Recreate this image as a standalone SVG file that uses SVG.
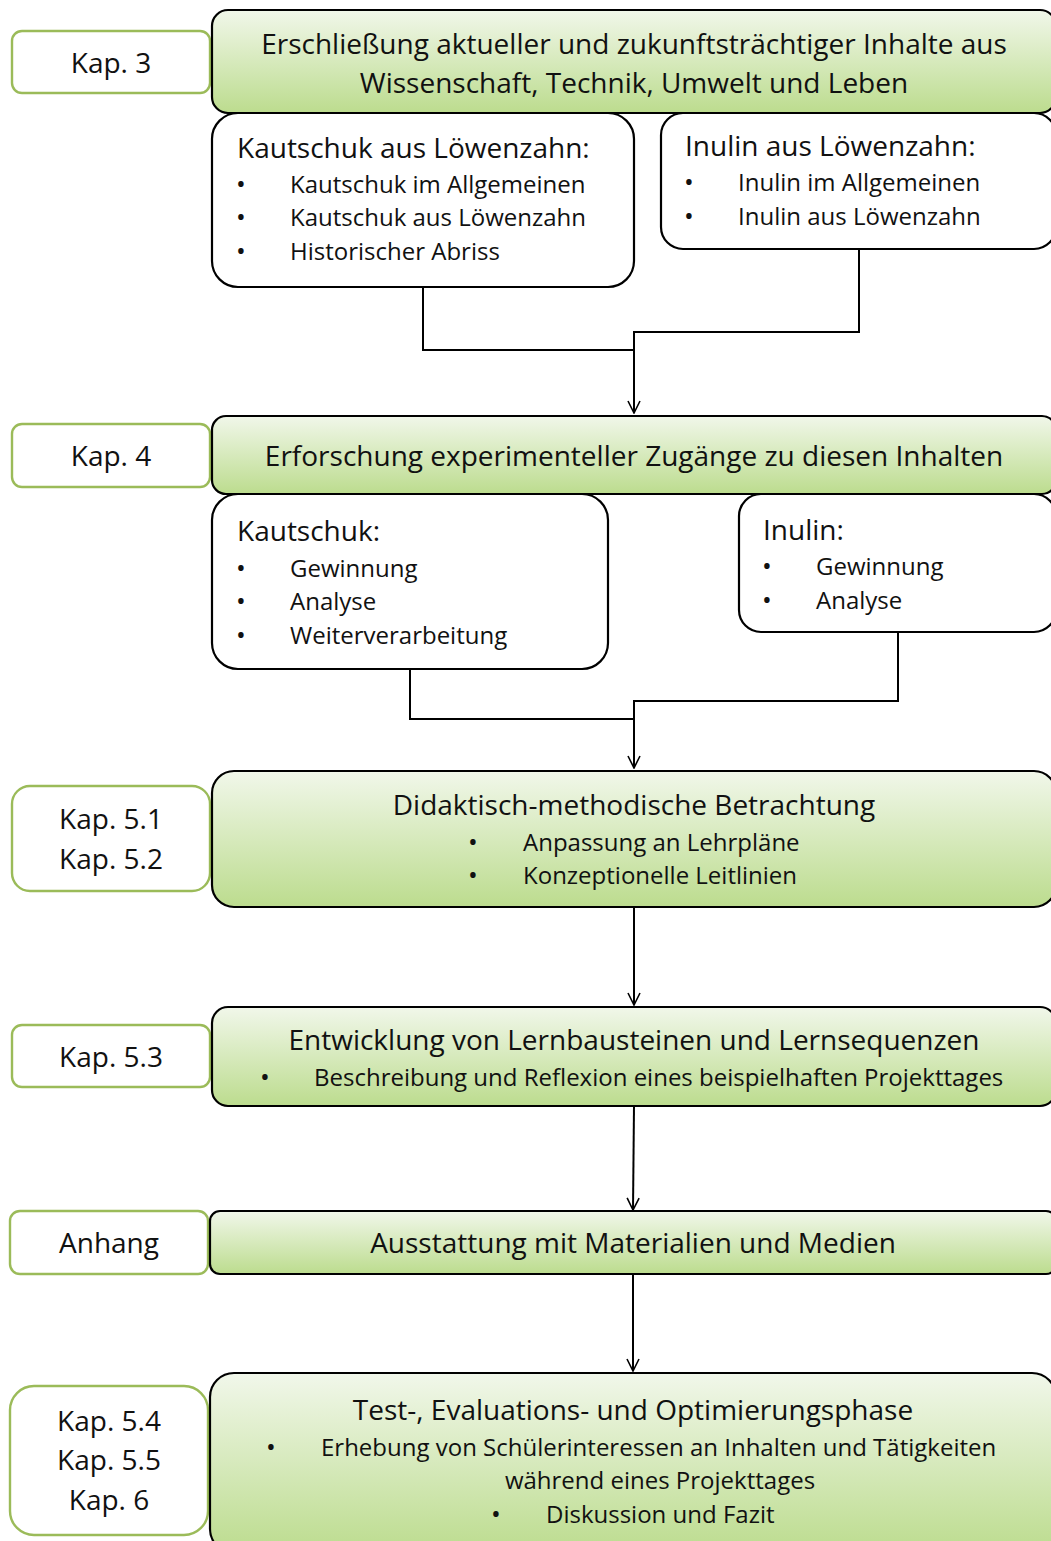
<svg xmlns="http://www.w3.org/2000/svg" width="1051" height="1541" viewBox="0 0 1051 1541">
<defs>
<linearGradient id="g" x1="0" y1="0" x2="0" y2="1">
<stop offset="0" stop-color="#f1f7ea"/>
<stop offset="1" stop-color="#bcdc8e"/>
</linearGradient>
<marker id="arr" viewBox="0 0 14 14" refX="13" refY="7" markerWidth="14" markerHeight="14" markerUnits="userSpaceOnUse" orient="auto">
<path d="M1,1 L13,7 L1,13" fill="none" stroke="#000" stroke-width="1.6"/>
</marker>
</defs>
<style>
.main{fill:url(#g);stroke:#000;stroke-width:2.2}
.sub{fill:#fff;stroke:#000;stroke-width:2.2}
.lab{fill:#fff;stroke:#9bbb59;stroke-width:2.4}
text{font-family:"Open Sans","Noto Sans","Liberation Sans",sans-serif;fill:#111}
.t{font-size:28px}
.i{font-size:24px}
.b{font-size:26px}
.c{text-anchor:middle}
.con{fill:none;stroke:#000;stroke-width:2}
</style>
<rect width="1051" height="1541" fill="#fff"/>

<g id="connectors">
<polyline class="con" points="423,287 423,350 634,350"/>
<polyline class="con" points="859,249 859,332 634,332 634,413" marker-end="url(#arr)"/>
<polyline class="con" points="410,669 410,719 634,719"/>
<polyline class="con" points="898,632 898,701 634,701 634,768" marker-end="url(#arr)"/>
<line class="con" x1="634" y1="907" x2="634" y2="1005" marker-end="url(#arr)"/>
<line class="con" x1="634" y1="1106" x2="633" y2="1210" marker-end="url(#arr)"/>
<line class="con" x1="633" y1="1274" x2="633" y2="1371" marker-end="url(#arr)"/>
</g>

<g id="lab-kap3">
<rect class="lab" x="12" y="31" width="198" height="62" rx="10"/>
<text class="t c" x="111" y="73">Kap. 3</text>
</g>
<g id="n1">
<rect class="main" x="212" y="10" width="844" height="103" rx="16"/>
<text class="t c" x="634" y="54">Erschließung aktueller und zukunftsträchtiger Inhalte aus</text>
<text class="t c" x="634" y="93">Wissenschaft, Technik, Umwelt und Leben</text>
</g>
<g id="n1a">
<rect class="sub" x="212" y="113" width="422" height="174" rx="26"/>
<text class="t" x="237" y="158">Kautschuk aus Löwenzahn:</text>
<text class="b" x="236" y="193">•</text><text class="i" x="290" y="193">Kautschuk im Allgemeinen</text>
<text class="b" x="236" y="226">•</text><text class="i" x="290" y="226">Kautschuk aus Löwenzahn</text>
<text class="b" x="236" y="260">•</text><text class="i" x="290" y="260">Historischer Abriss</text>
</g>
<g id="n1b">
<rect class="sub" x="661" y="113" width="395" height="136" rx="22"/>
<text class="t" x="685" y="156">Inulin aus Löwenzahn:</text>
<text class="b" x="684" y="191">•</text><text class="i" x="738" y="191">Inulin im Allgemeinen</text>
<text class="b" x="684" y="225">•</text><text class="i" x="738" y="225">Inulin aus Löwenzahn</text>
</g>

<g id="lab-kap4">
<rect class="lab" x="12" y="424" width="198" height="63" rx="10"/>
<text class="t c" x="111" y="466">Kap. 4</text>
</g>
<g id="n2">
<rect class="main" x="212" y="416" width="844" height="78" rx="14"/>
<text class="t c" x="634" y="466">Erforschung experimenteller Zugänge zu diesen Inhalten</text>
</g>
<g id="n2a">
<rect class="sub" x="212" y="494" width="396" height="175" rx="26"/>
<text class="t" x="237" y="541">Kautschuk:</text>
<text class="b" x="236" y="577">•</text><text class="i" x="290" y="577">Gewinnung</text>
<text class="b" x="236" y="610">•</text><text class="i" x="290" y="610">Analyse</text>
<text class="b" x="236" y="644">•</text><text class="i" x="290" y="644">Weiterverarbeitung</text>
</g>
<g id="n2b">
<rect class="sub" x="739" y="494" width="317" height="138" rx="22"/>
<text class="t" x="763" y="540">Inulin:</text>
<text class="b" x="762" y="575">•</text><text class="i" x="816" y="575">Gewinnung</text>
<text class="b" x="762" y="609">•</text><text class="i" x="816" y="609">Analyse</text>
</g>

<g id="lab-kap5-1">
<rect class="lab" x="12" y="786" width="198" height="105" rx="18"/>
<text class="t c" x="111" y="829">Kap. 5.1</text>
<text class="t c" x="111" y="869">Kap. 5.2</text>
</g>
<g id="n3">
<rect class="main" x="212" y="771" width="844" height="136" rx="22"/>
<text class="t c" x="634" y="815">Didaktisch-methodische Betrachtung</text>
<text class="b" x="468" y="851">•</text><text class="i" x="523" y="851">Anpassung an Lehrpläne</text>
<text class="b" x="468" y="884">•</text><text class="i" x="523" y="884">Konzeptionelle Leitlinien</text>
</g>

<g id="lab-kap5-3">
<rect class="lab" x="12" y="1025" width="198" height="62" rx="10"/>
<text class="t c" x="111" y="1067">Kap. 5.3</text>
</g>
<g id="n4">
<rect class="main" x="212" y="1007" width="844" height="99" rx="16"/>
<text class="t c" x="634" y="1050">Entwicklung von Lernbausteinen und Lernsequenzen</text>
<text class="b" x="260" y="1086">•</text><text class="i" x="314" y="1086">Beschreibung und Reflexion eines beispielhaften Projekttages</text>
</g>

<g id="lab-anhang">
<rect class="lab" x="10" y="1211" width="198" height="63" rx="10"/>
<text class="t c" x="109" y="1253">Anhang</text>
</g>
<g id="n5">
<rect class="main" x="210" y="1211" width="846" height="63" rx="10"/>
<text class="t c" x="633" y="1253">Ausstattung mit Materialien und Medien</text>
</g>

<g id="lab-kap5-4">
<rect class="lab" x="10" y="1386" width="198" height="149" rx="24"/>
<text class="t c" x="109" y="1431">Kap. 5.4</text>
<text class="t c" x="109" y="1470">Kap. 5.5</text>
<text class="t c" x="109" y="1510">Kap. 6</text>
</g>
<g id="n6">
<rect class="main" x="210" y="1373" width="846" height="180" rx="24"/>
<text class="t c" x="633" y="1420">Test-, Evaluations- und Optimierungsphase</text>
<text class="b" x="266" y="1456">•</text><text class="i" x="321" y="1456">Erhebung von Schülerinteressen an Inhalten und Tätigkeiten</text>
<text class="i c" x="660" y="1489">während eines Projekttages</text>
<text class="b" x="491" y="1523">•</text><text class="i" x="546" y="1523">Diskussion und Fazit</text>
</g>
</svg>
